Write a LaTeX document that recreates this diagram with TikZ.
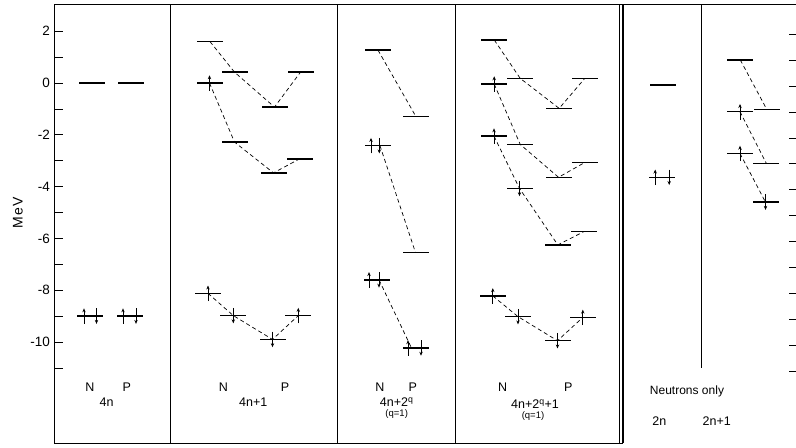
\documentclass[tikz,border=0pt]{standalone}
\usepackage{fontspec}
\setmainfont{Liberation Sans}
\usetikzlibrary{arrows.meta}

\begin{document}
\begin{tikzpicture}[x=1pt,y=25.9pt]
\tikzstyle{lvl}   = [rectangle, fill=black, minimum width=26pt, minimum height=1.4pt, inner sep=0pt]
\tikzstyle{conn}  = [dash pattern=on 4pt off 3pt, line width=0.7pt]
\tikzstyle{spin}  = [line width=0.8pt, -{Stealth[length=4pt,width=3.4pt]}]
\tikzstyle{lab}   = [font=\fontsize{12.5}{14}\selectfont, inner sep=0pt]
\tikzstyle{small} = [font=\fontsize{9.5}{11}\selectfont, inner sep=0pt]
\tikzstyle{frame} = [line width=0.8pt]

\useasboundingbox (0,-14.054) rectangle (796,3.205);

% frame and column rules
\draw [frame] (796,3.05) -- (54,3.05) -- (54,-13.9) -- (623,-13.9);
\foreach \x in {170,337,455.5,619.5} \draw [frame] (\x,3.05) -- (\x,-13.9);
\draw [line width=1.3pt] (623,3.05) -- (623,-13.9);
\draw [frame] (701,3.05) -- (701,-11);

% energy scale
\foreach \e in {2,1,...,-11} \draw [frame] (54,\e) -- (63,\e);
\foreach \e in {2,1,...,-11} \draw [frame] (789,\e-0.12) -- (796,\e-0.12);
\foreach \e in {2,0,...,-10} \node (tick\e) [lab, font=\fontsize{13.5}{15}\selectfont, anchor=east] at (50,\e) {\e};
\node (mev) [lab, font=\fontsize{14}{16}\selectfont, rotate=90] at (18,-5.02) {M\kern1pt e\kern1pt V};

% 4n
\node (fN0) [lvl] at (92,0) {};
\node (fP0) [lvl] at (131,0) {};
\node (fN9) [lvl] at (90,-9) {};
\node (fP9) [lvl] at (130,-9) {};
\draw [spin] (fN9.center) ++(-6,-0.3) -- ++(0,0.6);
\draw [spin] (fN9.center) ++(6.5,0.3) -- ++(0,-0.6);
\draw [spin] (fP9.center) ++(-7,-0.3) -- ++(0,0.6);
\draw [spin] (fP9.center) ++(6,0.3) -- ++(0,-0.6);

% 4n+1
\node (pA) [lvl] at (210,1.6) {};
\node (pB) [lvl] at (234.5,0.42) {};
\node (pC) [lvl] at (274.5,-0.93) {};
\node (pD) [lvl] at (300.5,0.42) {};
\node (pE) [lvl] at (209.5,0) {};
\node (pF) [lvl] at (234.5,-2.28) {};
\node (pG) [lvl] at (273.5,-3.47) {};
\node (pH) [lvl] at (299.5,-2.93) {};
\node (pI) [lvl] at (208,-8.12) {};
\node (pJ) [lvl] at (233.3,-8.98) {};
\node (pK) [lvl] at (272.5,-9.9) {};
\node (pL) [lvl] at (298.3,-8.98) {};
\draw [conn] (pA.center) -- (pB.center) -- (pC.center) -- (pD.center);
\draw [conn] (pE.center) -- (pF.center) -- (pG.center) -- (pH.center);
\draw [conn] (pI.center) -- (pJ.center) -- (pK.center) -- (pL.center);
\draw [spin] (pE.center) ++(0,-0.3) -- ++(0,0.6);
\draw [spin] (pI.center) ++(0,-0.3) -- ++(0,0.6);
\draw [spin] (pJ.center) ++(0,0.3) -- ++(0,-0.6);
\draw [spin] (pK.center) ++(0,0.3) -- ++(0,-0.6);
\draw [spin] (pL.center) ++(0,-0.3) -- ++(0,0.6);

% 4n+2^q
\node (qM) [lvl] at (378,1.27) {};
\node (qN) [lvl] at (416,-1.3) {};
\node (qO) [lvl] at (378,-2.42) {};
\node (qP) [lvl] at (415.5,-6.55) {};
\node (qQ) [lvl] at (376.5,-7.6) {};
\node (qR) [lvl] at (415.5,-10.23) {};
\draw [conn] (qM.center) -- (qN.center);
\draw [conn] ([xshift=2pt]qO.center) -- (qP.center);
\draw [conn] ([xshift=2.5pt]qQ.center) -- ([xshift=-4pt]qR.center);
\draw [spin] (qO.center) ++(-7,-0.3) -- ++(0,0.6);
\draw [spin] (qO.center) ++(1.3,0.3) -- ++(0,-0.6);
\draw [spin] (qQ.center) ++(-7.5,-0.3) -- ++(0,0.6);
\draw [spin] (qQ.center) ++(2.5,0.3) -- ++(0,-0.6);
\draw [spin] (qR.center) ++(-7.5,-0.3) -- ++(0,0.6);
\draw [spin] (qR.center) ++(5.5,0.3) -- ++(0,-0.6);

% 4n+2^q+1
\node (a1) [lvl] at (494.3,1.66) {};
\node (a2) [lvl] at (520.2,0.18) {};
\node (a3) [lvl] at (559.2,-0.98) {};
\node (a4) [lvl] at (584.8,0.18) {};
\node (b1) [lvl] at (494.2,-0.04) {};
\node (b2) [lvl] at (520.2,-2.37) {};
\node (b3) [lvl] at (558.5,-3.64) {};
\node (b4) [lvl] at (584.7,-3.07) {};
\node (c1) [lvl] at (494,-2.05) {};
\node (c2) [lvl] at (519.5,-4.07) {};
\node (c3) [lvl] at (557.8,-6.25) {};
\node (c4) [lvl] at (583.8,-5.74) {};
\node (d1) [lvl] at (492.8,-8.22) {};
\node (d2) [lvl] at (518,-9.02) {};
\node (d3) [lvl] at (557.5,-9.95) {};
\node (d4) [lvl] at (582.8,-9.05) {};
\draw [conn] (a1.center) -- (a2.center) -- (a3.center) -- (a4.center);
\draw [conn] (b1.center) -- (b2.center) -- (b3.center) -- (b4.center);
\draw [conn] (c1.center) -- (c2.center) -- (c3.center) -- (c4.center);
\draw [conn] (d1.center) -- (d2.center) -- (d3.center) -- (d4.center);
\draw [spin] (b1.center) ++(0,-0.3) -- ++(0,0.6);
\draw [spin] (c1.center) ++(0,-0.3) -- ++(0,0.6);
\draw [spin] (c2.center) ++(0,0.3) -- ++(0,-0.6);
\draw [spin] (d1.center) ++(0,-0.3) -- ++(0,0.6);
\draw [spin] (d2.center) ++(0,0.3) -- ++(0,-0.6);
\draw [spin] (d3.center) ++(0,0.3) -- ++(0,-0.6);
\draw [spin] (d4.center) ++(0,-0.3) -- ++(0,0.6);

% neutrons only
\node (s0) [lvl] at (663,-0.08) {};
\node (s1) [lvl] at (662.2,-3.64) {};
\draw [spin] (s1.center) ++(-7,-0.3) -- ++(0,0.6);
\draw [spin] (s1.center) ++(7,0.3) -- ++(0,-0.6);
\node (e1) [lvl] at (740.3,0.89) {};
\node (e2) [lvl] at (766.8,-1.02) {};
\node (f1) [lvl] at (740,-1.11) {};
\node (f2) [lvl] at (766.3,-3.1) {};
\node (g1) [lvl] at (740,-2.72) {};
\node (g2) [lvl] at (765.5,-4.6) {};
\draw [conn] (e1.center) -- (e2.center);
\draw [conn] (f1.center) -- (f2.center);
\draw [conn] (g1.center) -- (g2.center);
\draw [spin] (f1.center) ++(0,-0.3) -- ++(0,0.6);
\draw [spin] (g1.center) ++(0,-0.3) -- ++(0,0.6);
\draw [spin] (g2.center) ++(0,0.3) -- ++(0,-0.6);

% column labels
\node (l1N) [lab] at (90,-11.74) {N};
\node (l1P) [lab] at (126.7,-11.74) {P};
\node (l1)  [lab] at (106.7,-12.32) {4n};
\node (l2N) [lab] at (223.3,-11.74) {N};
\node (l2P) [lab] at (285,-11.74) {P};
\node (l2)  [lab] at (253.3,-12.32) {4n+1};
\node (l3N) [lab] at (380,-11.74) {N};
\node (l3P) [lab] at (412.7,-11.74) {P};
\node (l3)  [lab] at (396.7,-12.32) {4n+2\textsuperscript{q}};
\node (l3q) [small] at (396.7,-12.78) {(q=1)};
\node (l4N) [lab] at (502.7,-11.74) {N};
\node (l4P) [lab] at (568.3,-11.74) {P};
\node (l4)  [lab] at (535,-12.39) {4n+2\textsuperscript{q}+1};
\node (l4q) [small] at (533,-12.85) {(q=1)};
\node (neu) [lab, font=\fontsize{12}{14}\selectfont] at (687,-11.92) {Neutrons only};
\node (l5)  [lab] at (659.3,-13.04) {2n};
\node (l6)  [lab] at (716.7,-13.04) {2n+1};
\end{tikzpicture}
\end{document}
